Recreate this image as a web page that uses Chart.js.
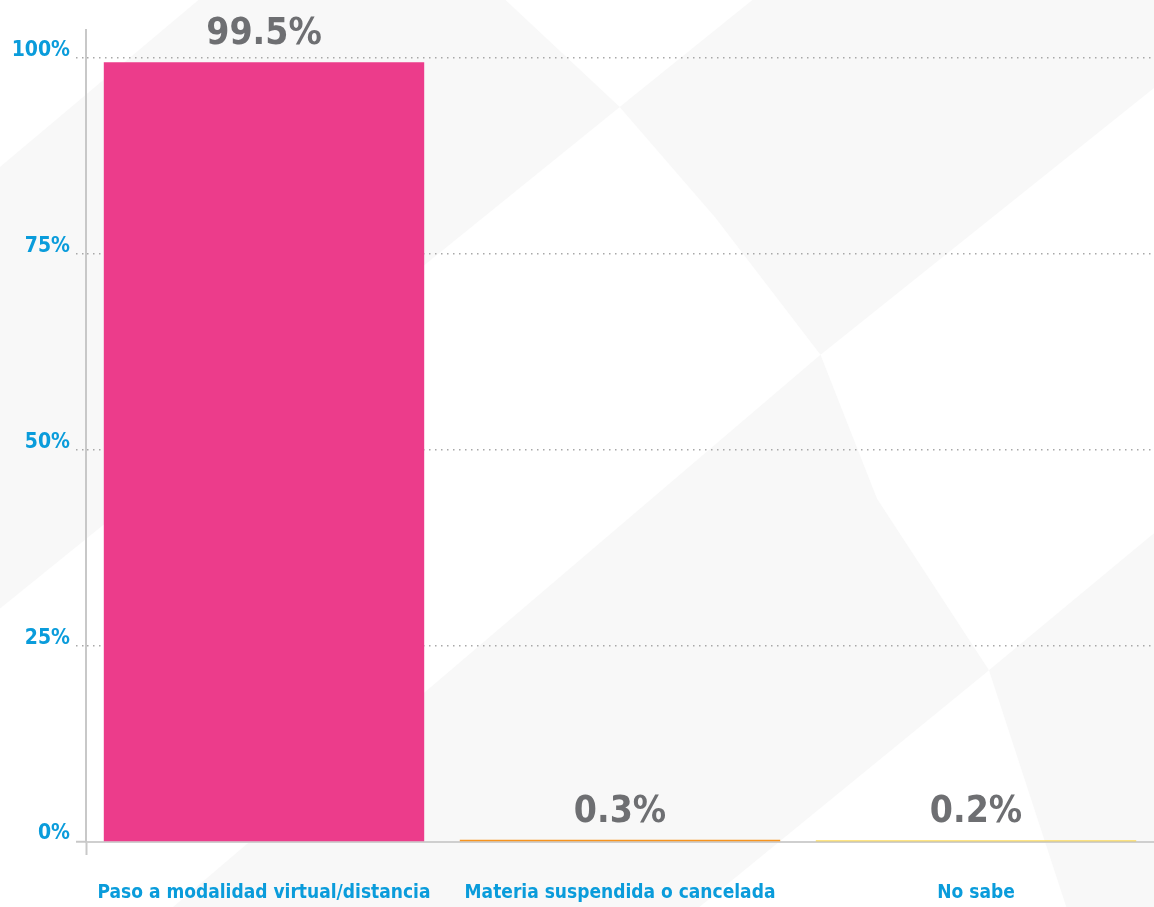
<!DOCTYPE html>
<html>
<head>
<meta charset="utf-8">
<script src="https://cdn.jsdelivr.net/npm/chart.js@4.4.0/dist/chart.umd.min.js"></script>
<style>
  html, body { margin: 0; padding: 0; background: #fff; }
  #wrap { width: 1154px; height: 907px; position: relative; }
</style>
</head>
<body>
<div id="wrap"><canvas id="chartBar"></canvas></div>
<script>
// datos
var categorias = ['Paso a modalidad virtual/distancia', 'Materia suspendida o cancelada', 'No sabe'];
var porcentajes = [99.5, 0.3, 0.2];
var colores = ['#EC3C8B', '#F7941E', '#FDCC0A'];
var marcasY = [0, 25, 50, 75, 100];

var FUENTE = "'DejaVu Sans Condensed', 'Liberation Sans Narrow', 'Roboto', sans-serif";
var AZUL = '#0A9CDB';
var GRIS = '#6E6F72';

/* fondo con figuras grises muy suaves (fracciones del lienzo) */
var fondo = {
    id: 'fondo',
    beforeDraw: function (chart) {
        var ctx = chart.ctx, w = chart.width, h = chart.height;
        var figuras = [
            [[0, 0.184], [0.172, 0], [0.438, 0], [0.537, 0.118], [0, 0.671]],
            [[0.537, 0.118], [0.652, 0], [1, 0], [1, 0.097], [0.711, 0.391], [0.62, 0.24]],
            [[0.711, 0.391], [0.76, 0.55], [0.857, 0.739], [0.606, 1], [0.15, 1]],
            [[0.857, 0.739], [1, 0.588], [1, 1], [0.924, 1]]
        ];
        ctx.save();
        ctx.fillStyle = '#ffffff';
        ctx.fillRect(0, 0, w, h);
        ctx.fillStyle = '#f8f8f8';
        figuras.forEach(function (f) {
            ctx.beginPath();
            f.forEach(function (p, i) {
                if (i === 0) ctx.moveTo(p[0] * w, p[1] * h);
                else ctx.lineTo(p[0] * w, p[1] * h);
            });
            ctx.closePath();
            ctx.fill();
        });
        ctx.restore();
    }
};

/* etiquetas de valor sobre cada barra */
var etiquetas = {
    id: 'etiquetas',
    afterDatasetsDraw: function (chart) {
        var ctx = chart.ctx;
        var meta = chart.getDatasetMeta(0);
        ctx.save();
        ctx.font = 'bold 37px ' + FUENTE;
        ctx.fillStyle = GRIS;
        ctx.textAlign = 'center';
        ctx.textBaseline = 'alphabetic';
        meta.data.forEach(function (bar, i) {
            ctx.fillText(porcentajes[i] + '%', bar.x, bar.y - 18);
        });
        ctx.restore();
    }
};

var chartBar = document.getElementById('chartBar').getContext('2d');
new Chart(chartBar, {
    type: 'bar',
    data: {
        labels: categorias,
        datasets: [{
            data: porcentajes,
            backgroundColor: colores,
            barPercentage: 0.9,
            categoryPercentage: 1.0
        }]
    },
    options: {
        responsive: true,
        maintainAspectRatio: false,
        animation: false,
        layout: { padding: { top: 30, left: 0, right: 0, bottom: 0 } },
        plugins: {
            legend: { display: false },
            tooltip: { enabled: false }
        },
        scales: {
            x: {
                afterFit: function (s) { s.height = 65; },
                grid: {
                    drawOnChartArea: false,
                    tickLength: 13,
                    tickWidth: 2,
                    tickColor: function (c) { return c.index === 0 ? '#c8c8c8' : 'rgba(0,0,0,0)'; },
                    color: 'rgba(0,0,0,0)'
                },
                border: { display: true, color: '#cfcfcf', width: 2 },
                ticks: {
                    color: AZUL,
                    padding: 27,
                    font: { family: FUENTE, size: 19, weight: 'bold' },
                    maxRotation: 0,
                    autoSkip: false
                }
            },
            y: {
                min: 0,
                max: 103.6,
                afterFit: function (s) { s.width = 86; },
                afterBuildTicks: function (s) {
                    s.ticks = marcasY.map(function (v) { return { value: v }; });
                },
                grid: {
                    color: function (c) { return c.tick && c.tick.value === 0 ? 'rgba(0,0,0,0)' : '#a8a8a8'; },
                    lineWidth: 1.5,
                    tickLength: 10,
                    tickColor: function (c) { return c.tick && c.tick.value === 0 ? '#c8c8c8' : '#a8a8a8'; },
                    tickWidth: function (c) { return c.tick && c.tick.value === 0 ? 2 : 1.5; },
                    tickBorderDash: function (c) { return c.tick && c.tick.value === 0 ? [] : [1.5, 4.5]; }
                },
                border: { display: true, color: '#c8c8c8', width: 2, dash: [1.5, 4.5] },
                ticks: {
                    color: AZUL,
                    padding: 6,
                    labelOffset: -8,
                    font: { family: FUENTE, size: 21, weight: 'bold' },
                    callback: function (v) { return v + '%'; }
                }
            }
        }
    },
    plugins: [fondo, etiquetas]
});
</script>
</body>
</html>
